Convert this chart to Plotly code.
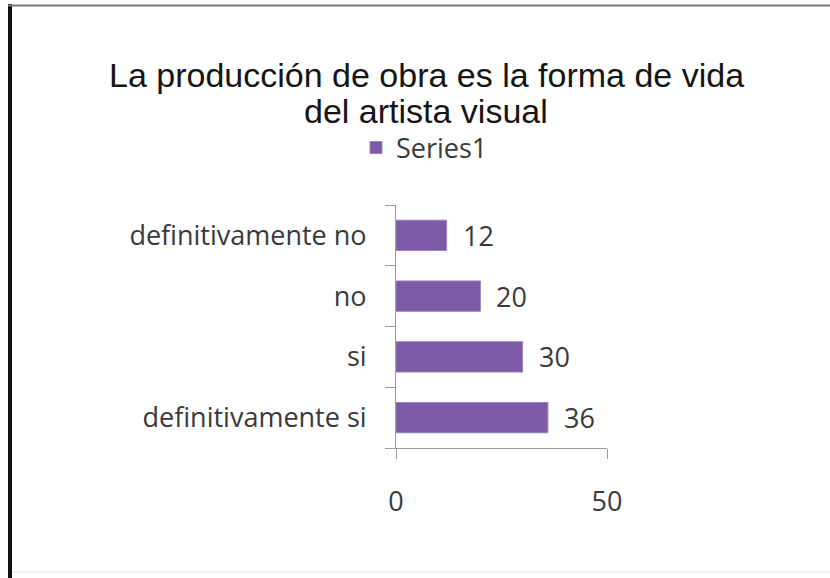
import plotly.graph_objects as go

# ---- data ----
categories = ["definitivamente no", "no", "si", "definitivamente si"]
values = [12, 20, 30, 36]
series_name = "Series1"
x_ticks = [0, 50]
title_lines = ["La producción de obra es la forma de vida", "del artista visual"]

# ---- layout geometry (pixels) ----
W, H = 830, 578
L, R, T, B = 396, 607, 205, 448  # plot area edges

def px_x(px):
    return (px - L) / (R - L)

def px_y(py):
    return (B - py) / (B - T)

label_font = dict(family="Open Sans", size=27, color="#3a3a3a")
bar_color = "#7D5AA6"

fig = go.Figure()
fig.add_trace(go.Bar(
    x=values, y=categories, orientation="h", name=series_name,
    marker=dict(color=bar_color, line=dict(color="#9b84c0", width=1)),
    showlegend=True,
))

annotations = []
for c, v in zip(categories, values):
    annotations.append(dict(
        x=v, y=c, xref="x", yref="y", text=str(v), showarrow=False,
        xanchor="left", yanchor="middle", xshift=14, font=label_font,
    ))

title_font = dict(family="Liberation Sans, Arial, sans-serif", size=34, color="#151515")
for i, line in enumerate(title_lines):
    annotations.append(dict(
        x=px_x(426), y=px_y(75 + 36 * i), xref="paper", yref="paper",
        text=line, showarrow=False, xanchor="center", yanchor="middle",
        font=title_font,
    ))

shapes = [
    dict(type="line", xref="paper", yref="paper", x0=px_x(10), x1=px_x(10),
         y0=px_y(4), y1=px_y(578), line=dict(color="#111111", width=4)),
    dict(type="line", xref="paper", yref="paper", x0=px_x(8), x1=px_x(830),
         y0=px_y(5.5), y1=px_y(5.5), line=dict(color="#7a7a7a", width=2)),
    dict(type="line", xref="paper", yref="paper", x0=px_x(12), x1=px_x(830),
         y0=px_y(572), y1=px_y(572), line=dict(color="#e4e4e4", width=1)),
]

fig.update_layout(
    width=W, height=H,
    margin=dict(l=L, r=W - R, t=T, b=H - B, pad=0),
    paper_bgcolor="white", plot_bgcolor="white",
    bargap=0.5,
    showlegend=True,
    legend=dict(orientation="h", x=px_x(356), y=px_y(148), xanchor="left",
                yanchor="middle", font=label_font, bgcolor="rgba(0,0,0,0)"),
    annotations=annotations,
    shapes=shapes,
    xaxis=dict(range=[0, 50], tickvals=x_ticks, ticktext=[str(t) for t in x_ticks],
               ticks="outside", ticklen=10, tickcolor="#9a9a9a",
               showgrid=True, gridcolor="#b0b0b0", gridwidth=1,
               showline=True, linecolor="#9a9a9a", zeroline=False,
               tickfont=label_font, ticklabelstandoff=20, fixedrange=True),
    yaxis=dict(categoryorder="array", categoryarray=categories[::-1],
               type="category", tickson="boundaries",
               ticks="outside", ticklen=10, tickcolor="#9a9a9a",
               showline=True, linecolor="#9a9a9a", showgrid=False,
               tickfont=label_font, ticklabelstandoff=23, fixedrange=True),
)

fig.write_html("out.html", config={"displayModeBar": False},
               post_script="document.body.style.margin='0';")
